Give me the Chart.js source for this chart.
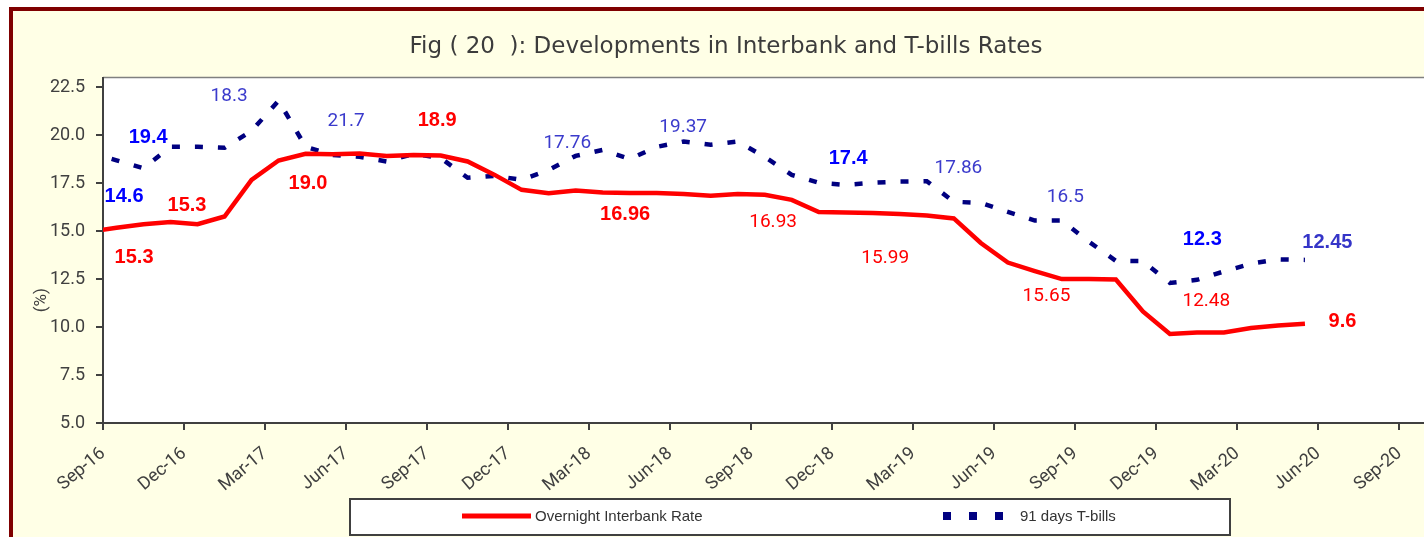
<!DOCTYPE html>
<html>
<head>
<meta charset="utf-8">
<script src="https://cdn.jsdelivr.net/npm/chart.js@4.4.1/dist/chart.umd.min.js"></script>
<style>
  html, body { margin: 0; padding: 0; background: #fff; overflow: hidden; }
  #wrap { width: 1424px; height: 537px; overflow: hidden; }
</style>
</head>
<body>
<div id="wrap"><canvas id="chart" width="1440" height="537"></canvas></div>
<script>
// monthly points, plotted mid-month (Sep-16 = month 0 on the axis)
const pointMonths = [
  'Aug-16', 'Sep-16', 'Oct-16', 'Nov-16', 'Dec-16',
  'Jan-17', 'Feb-17', 'Mar-17', 'Apr-17', 'May-17', 'Jun-17', 'Jul-17', 'Aug-17', 'Sep-17', 'Oct-17', 'Nov-17', 'Dec-17',
  'Jan-18', 'Feb-18', 'Mar-18', 'Apr-18', 'May-18', 'Jun-18', 'Jul-18', 'Aug-18', 'Sep-18', 'Oct-18', 'Nov-18', 'Dec-18',
  'Jan-19', 'Feb-19', 'Mar-19', 'Apr-19', 'May-19', 'Jun-19', 'Jul-19', 'Aug-19', 'Sep-19', 'Oct-19', 'Nov-19', 'Dec-19',
  'Jan-20', 'Feb-20', 'Mar-20', 'Apr-20', 'May-20'
];

const interbankRate = [
  14.97, 15.17, 15.36, 15.47, 15.36,
  15.76, 17.67, 18.68, 19.03, 19.01, 19.04, 18.92, 18.96, 18.94, 18.63, 17.93, 17.15,
  16.98, 17.11, 17.01, 16.98, 16.98, 16.94, 16.84, 16.94, 16.89, 16.63, 15.99, 15.97,
  15.95, 15.89, 15.81, 15.66, 14.38, 13.36, 12.92, 12.50, 12.50, 12.48, 10.81, 9.64,
  9.72, 9.72, 9.95, 10.08, 10.17
];

const tbillRate = [
  19.09, 18.69, 18.28, 19.39, 19.39,
  19.34, 20.22, 21.80, 19.40, 18.97, 18.87, 18.63, 19.03, 18.81, 17.78, 17.88, 17.67,
  18.19, 18.92, 19.23, 18.76, 19.39, 19.67, 19.50, 19.67, 18.87, 17.93, 17.52, 17.41,
  17.52, 17.58, 17.60, 16.53, 16.47, 16.00, 15.55, 15.55, 14.45, 13.45, 13.44, 12.30,
  12.46, 12.90, 13.30, 13.53, 13.50
];

const tickLabels = [
  'Sep-16', 'Dec-16', 'Mar-17', 'Jun-17', 'Sep-17', 'Dec-17', 'Mar-18', 'Jun-18', 'Sep-18',
  'Dec-18', 'Mar-19', 'Jun-19', 'Sep-19', 'Dec-19', 'Mar-20', 'Jun-20', 'Sep-20'
];
const yTicks = [5, 7.5, 10, 12.5, 15, 17.5, 20, 22.5];

// value notes scattered over the plot (month on axis, value)
const noteTexts  = ['18.3', '19.4', '14.6', '15.3', '15.3', '19.0', '21.7', '18.9', '17.76', '19.37', '16.96',
                    '16.93', '17.4', '15.99', '17.86', '16.5', '15.65', '12.3', '12.48', '12.45', '9.6'];
const noteMonths = [4.67, 1.67, 0.78, 3.11, 1.15, 7.59, 9.0, 12.37, 17.19, 21.48, 19.33,
                    24.81, 27.59, 28.96, 31.67, 35.63, 34.93, 40.7, 40.85, 45.33, 45.89];
const noteValues = [22.01, 19.86, 16.79, 16.32, 13.61, 17.46, 20.75, 20.75, 19.6, 20.43, 15.85,
                    15.48, 18.77, 13.61, 18.3, 16.79, 11.58, 14.55, 11.32, 14.39, 10.28];
const noteKinds  = ['tn', 'tb', 'tb', 'rb', 'rb', 'rb', 'tn', 'rb', 'tn', 'tn', 'rb',
                    'rn', 'tb', 'rn', 'tn', 'tn', 'rn', 'tb', 'rn', 'ts', 'rb'];

const noteStyle = {
  tb: { color: '#0000ff', font: 'bold 20px "Liberation Sans", Arial, sans-serif' },
  ts: { color: '#3535c8', font: 'bold 20px "Liberation Sans", Arial, sans-serif' },
  tn: { color: '#3b3bcc', font: '19px Roboto, sans-serif' },
  rb: { color: '#ff0000', font: 'bold 20px "Liberation Sans", Arial, sans-serif' },
  rn: { color: '#ff0000', font: '19px Roboto, sans-serif' }
};

const toPoints = (vals) => vals.map((v, i) => ({ x: i - 0.5, y: v }));

const framePlugin = {
  id: 'frame',
  beforeDraw(chart) {
    const { ctx, width, height, chartArea: a } = chart;
    ctx.save();
    ctx.fillStyle = '#ffffff';
    ctx.fillRect(0, 0, width, height);
    ctx.fillStyle = '#7f0000';
    ctx.fillRect(9, 7, width, height);
    ctx.fillStyle = '#ffffe6';
    ctx.fillRect(13, 11, width, height);
    ctx.fillStyle = '#ffffff';
    ctx.fillRect(a.left, a.top, a.right - a.left, a.bottom - a.top);
    ctx.strokeStyle = '#808080';
    ctx.lineWidth = 1.5;
    ctx.beginPath();
    ctx.moveTo(a.left, a.top);
    ctx.lineTo(a.right, a.top);
    ctx.stroke();
    ctx.restore();
  },
  afterDraw(chart) {
    const { ctx, scales: { x, y } } = chart;
    ctx.save();
    // value notes
    ctx.textAlign = 'center';
    ctx.textBaseline = 'middle';
    noteTexts.forEach((t, i) => {
      const s = noteStyle[noteKinds[i]];
      ctx.fillStyle = s.color;
      ctx.font = s.font;
      ctx.fillText(t, x.getPixelForValue(noteMonths[i]), y.getPixelForValue(noteValues[i]));
    });

    // y axis caption
    ctx.save();
    ctx.translate(42, y.getPixelForValue(11.4));
    ctx.rotate(-Math.PI / 2);
    ctx.fillStyle = '#404040';
    ctx.font = '17px Roboto, sans-serif';
    ctx.fillText('(%)', 0, 0);
    ctx.restore();

    // legend box
    const ds = chart.data.datasets;
    const top = 499, bottom = 535, cy = 516;
    ctx.fillStyle = '#ffffff';
    ctx.fillRect(350, top, 880, bottom - top);
    ctx.strokeStyle = '#404040';
    ctx.lineWidth = 2;
    ctx.strokeRect(350, top, 880, bottom - top);

    ctx.strokeStyle = ds[0].borderColor;
    ctx.lineWidth = 5;
    ctx.beginPath();
    ctx.moveTo(462, cy);
    ctx.lineTo(531, cy);
    ctx.stroke();

    ctx.fillStyle = ds[1].borderColor;
    [943, 969, 995].forEach(px => ctx.fillRect(px, cy - 4, 8, 8));

    ctx.fillStyle = '#333333';
    ctx.font = '15px "Liberation Sans", Arial, sans-serif';
    ctx.textAlign = 'left';
    ctx.fillText(ds[0].label, 535, cy + 1);
    ctx.fillText(ds[1].label, 1020, cy + 1);
    ctx.restore();
  }
};

new Chart(document.getElementById('chart'), {
  type: 'line',
  data: {
    datasets: [
      {
        label: 'Overnight Interbank Rate',
        data: toPoints(interbankRate),
        borderColor: '#ff0000',
        borderWidth: 4.5,
        pointRadius: 0,
        tension: 0,
        clip: 0
      },
      {
        label: '91 days T-bills',
        data: toPoints(tbillRate),
        borderColor: '#000080',
        borderWidth: 4.5,
        borderDash: [8, 15],
        pointRadius: 0,
        tension: 0,
        clip: 0
      }
    ]
  },
  options: {
    responsive: false,
    animation: false,
    devicePixelRatio: 1,
    layout: { padding: { left: 12, right: 0, top: 0, bottom: 0 } },
    plugins: {
      legend: { display: false },
      tooltip: { enabled: false },
      title: {
        display: true,
        text: 'Fig ( 20  ): Developments in Interbank and T-bills Rates',
        color: '#3c3c3c',
        font: { family: '"DejaVu Sans"', size: 23, weight: 'normal' },
        padding: { top: 33, bottom: 17 }
      }
    },
    scales: {
      x: {
        type: 'linear',
        min: 0,
        max: 49.5,
        afterBuildTicks: (s) => { s.ticks = tickLabels.map((_, i) => ({ value: i * 3 })); },
        afterFit: (s) => { s.height = 114; },
        grid: { drawOnChartArea: false, drawTicks: true, tickLength: 7, color: '#404040', lineWidth: 2 },
        border: { display: true, color: '#404040', width: 2 },
        ticks: {
          minRotation: 40,
          maxRotation: 40,
          padding: 13,
          color: '#404040',
          font: { family: 'Roboto', size: 18 },
          callback: (v) => tickLabels[Math.round(v / 3)]
        }
      },
      y: {
        min: 5,
        max: 23,
        afterBuildTicks: (s) => { s.ticks = yTicks.map(v => ({ value: v })); },
        afterFit: (s) => { s.width = 91; },
        grid: { drawOnChartArea: false, drawTicks: true, tickLength: 7, color: '#404040', lineWidth: 2 },
        border: { display: true, color: '#404040', width: 2 },
        ticks: {
          padding: 11,
          color: '#404040',
          font: { family: 'Roboto', size: 18 },
          callback: (v) => Number(v).toFixed(1)
        }
      }
    }
  },
  plugins: [framePlugin]
});
</script>
</body>
</html>
